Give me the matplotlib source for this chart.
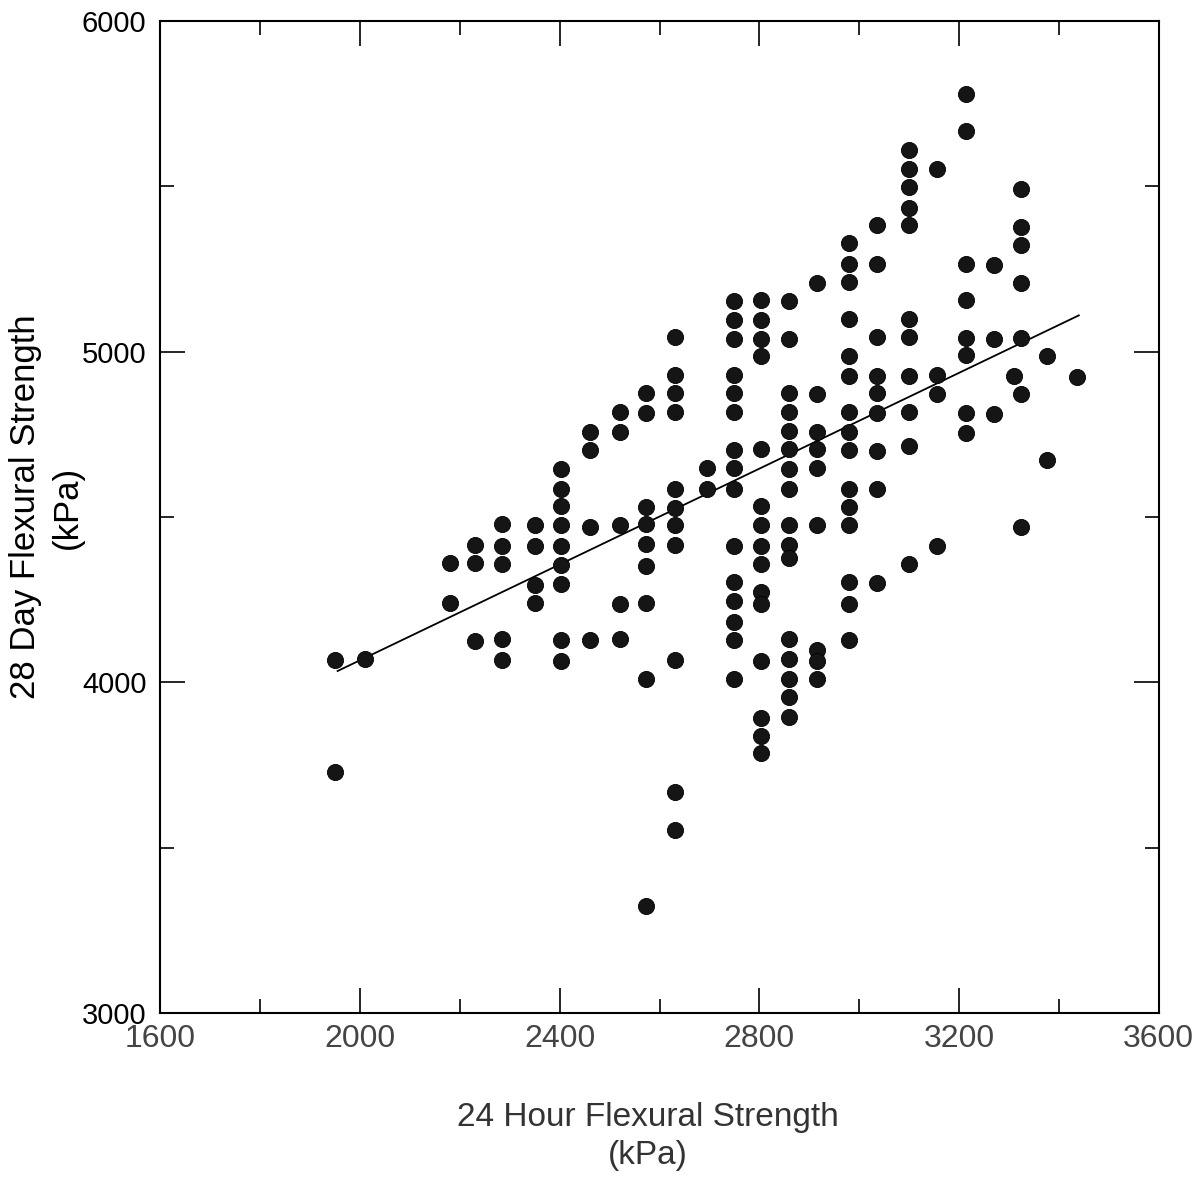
import matplotlib
matplotlib.use("Agg")
import matplotlib.pyplot as plt
from matplotlib.ticker import MultipleLocator

plt.rcParams['font.family'] = ['Liberation Sans', 'DejaVu Sans']

# 24 hour flexural strength (kPa), one entry per column of points
col_x = [1950, 2010, 2180, 2230, 2285, 2350, 2403, 2460, 2520, 2572,
         2630, 2695, 2750, 2803, 2860, 2915, 2979, 3035, 3100, 3155,
         3213, 3270, 3310, 3325, 3377, 3437]

# 28 day flexural strength (kPa) for each column
col_y = [
    [4067, 3728],
    [4069],
    [4361, 4239],
    [4415, 4360, 4125],
    [4478, 4413, 4359, 4130, 4066],
    [4477, 4413, 4294, 4239],
    [4646, 4585, 4533, 4475, 4411, 4356, 4298, 4127, 4063],
    [4758, 4703, 4471, 4129],
    [4818, 4757, 4476, 4238, 4131],
    [4874, 4816, 4529, 4478, 4417, 4352, 4240, 4011, 3324],
    [5044, 4931, 4876, 4818, 4586, 4528, 4476, 4415, 4067, 3668, 3552],
    [4649, 4585],
    [5155, 5097, 5039, 4929, 4874, 4819, 4703, 4648, 4584, 4413, 4303,
     4245, 4181, 4129, 4010],
    [5156, 5095, 5040, 4988, 4705, 4534, 4476, 4412, 4357, 4274, 4238,
     4064, 3893, 3838, 3786],
    [5155, 5039, 4875, 4817, 4759, 4707, 4646, 4585, 4475, 4414, 4377,
     4130, 4069, 4011, 3956, 3895],
    [5209, 4873, 4757, 4705, 4647, 4476, 4098, 4064, 4009],
    [5330, 5266, 5211, 5098, 4988, 4927, 4817, 4756, 4704, 4585, 4530,
     4475, 4302, 4237, 4128],
    [5384, 5265, 5045, 4926, 4874, 4816, 4700, 4584, 4300],
    [5609, 5554, 5499, 5435, 5383, 5099, 5044, 4928, 4818, 4714, 4357],
    [5552, 4930, 4872, 4411],
    [5780, 5667, 5264, 5157, 5041, 4989, 4815, 4754],
    [5263, 5040, 4811],
    [4926],
    [5493, 5378, 5323, 5207, 5042, 4871, 4471],
    [4986, 4671],
    [4923],
]

# regression line end points
fit_x = [1955, 3440]
fit_y = [4034, 5110]

xs, ys = [], []
for cx, cy in zip(col_x, col_y):
    for v in cy:
        xs.append(cx)
        ys.append(v)

fig = plt.figure(figsize=(11.97, 11.79), dpi=100)
ax = fig.add_axes([0.134, 0.141, 0.834, 0.841])

ax.scatter(xs, ys, s=135, color='#151515', edgecolors='black', linewidths=0.6, zorder=3)
ax.plot(fit_x, fit_y, color='black', lw=1.3, zorder=2)

ax.set_xlim(1600, 3600)
ax.set_ylim(3000, 6000)
ax.xaxis.set_major_locator(MultipleLocator(400))
ax.xaxis.set_minor_locator(MultipleLocator(200))
ax.yaxis.set_major_locator(MultipleLocator(1000))
ax.yaxis.set_minor_locator(MultipleLocator(500))
ax.tick_params(which='both', direction='in', top=True, right=True, width=1.2)
ax.tick_params(which='major', length=18)
ax.tick_params(which='minor', length=10)
ax.tick_params(axis='x', labelsize=23, pad=8, labelcolor='#444444')
ax.tick_params(axis='y', labelsize=21, pad=10)
for s in ax.spines.values():
    s.set_linewidth(1.5)

fig.text(0.039, 0.57, '28 Day Flexural Strength\n(kPa)', rotation=90,
         ha='center', va='center', fontsize=25, linespacing=1.35, multialignment='center')
fig.text(0.541, 0.036, '24 Hour Flexural Strength\n(kPa)', ha='center', va='center',
         fontsize=24, linespacing=1.3, color='#333333', multialignment='center')

fig.savefig('out.png', dpi=100)
